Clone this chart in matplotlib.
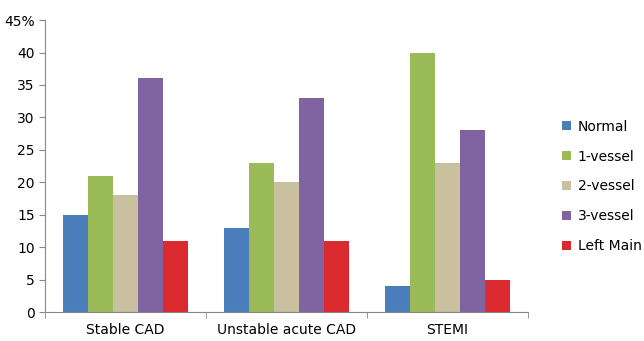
import matplotlib.pyplot as plt
import numpy as np

groups = ['Stable CAD', 'Unstable acute CAD', 'STEMI']
series = ['Normal', '1-vessel', '2-vessel', '3-vessel', 'Left Main']
normal = [15, 13, 4]
vessel1 = [21, 23, 40]
vessel2 = [18, 20, 23]
vessel3 = [36, 33, 28]
left_main = [11, 11, 5]
colors = ['#4A7EBB', '#9BBB59', '#C9C0A0', '#8064A2', '#DA2A2F']

values = [normal, vessel1, vessel2, vessel3, left_main]

fig = plt.figure(figsize=(6.44, 3.41), dpi=100)
ax = fig.add_axes([0.070, 0.085, 0.750, 0.856])

x = np.arange(len(groups))
w = 0.155
for i, (name, vals) in enumerate(zip(series, values)):
    ax.bar(x + (i - 2) * w, vals, w, color=colors[i], label=name)

ax.set_xlim(-0.5, 2.5)
ax.set_ylim(0, 45)
ax.set_yticks(range(0, 46, 5))
ax.set_yticklabels([str(v) for v in range(0, 41, 5)] + ['45%'])
ax.set_xticks(x)
ax.set_xticklabels(groups)
ax.set_xticks([-0.5, 0.5, 1.5, 2.5], minor=True)
ax.tick_params(axis='x', which='major', length=0, pad=8, labelsize=10)
ax.tick_params(axis='x', which='minor', length=4, color='#888888')
ax.tick_params(axis='y', length=4, color='#888888', labelsize=10)
for s in ['top', 'right']:
    ax.spines[s].set_visible(False)
for s in ['left', 'bottom']:
    ax.spines[s].set_color('#888888')

ax.legend(loc='center left', bbox_to_anchor=(1.045, 0.43), frameon=False,
          handlelength=0.6, handleheight=0.6, labelspacing=1.15, fontsize=10,
          handletextpad=0.5)

fig.savefig('out.png', dpi=100)
